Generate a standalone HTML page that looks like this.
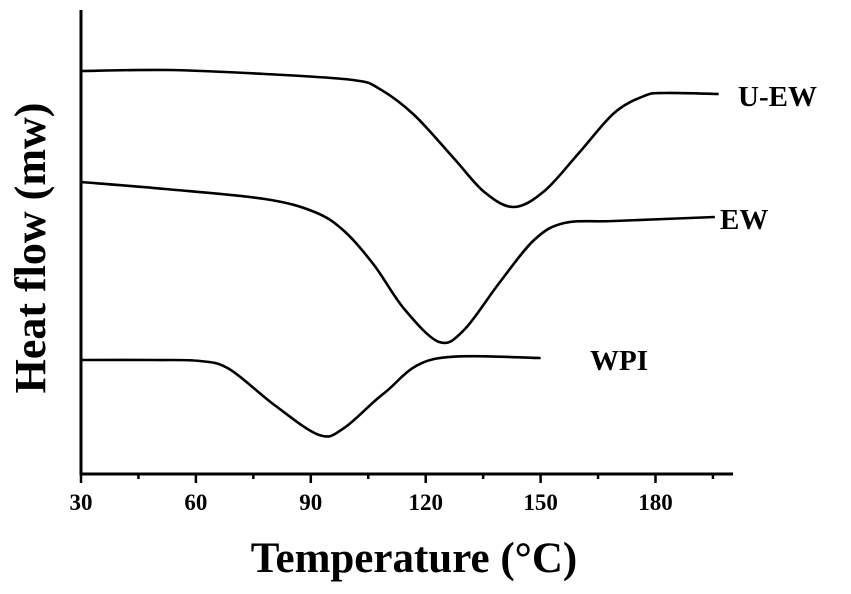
<!DOCTYPE html>
<html><head><meta charset="utf-8"><style>
html,body{margin:0;padding:0;background:#fff;}
svg{display:block;font-family:"Liberation Serif",serif;font-weight:bold;}
</style></head><body>
<svg id="chart" width="851" height="594" viewBox="0 0 851 594">
<g id="axes"></g><g id="series"></g><g id="labels"></g>
</svg>
<script>
const xTicks=[30,60,90,120,150,180];
const xMinorTicks=[45,75,105,135,165,195];
const uewT=[30,53,78,101,108,117,127.5,135.3,143,151,160,169.2,177,182.3,196.5];
const uewV=[404,405,401,395,386,360,316,283,268,284,322,362,379,382,381];
const ewT=[30,52,78,91,98.7,106.5,114.4,123.5,130,139.2,148.3,156.2,169.2,195.5];
const ewV=[293,286,276,263,244,210,166,133,145,192,235,252,254,258];
const wpiT=[30,49,61,68.7,80.5,92.2,98.7,109.2,122.2,150];
const wpiV=[115,115,114,106,70,40,47,82,116,117];
const seriesNames=["U-EW","EW","WPI"];

const NS="http://www.w3.org/2000/svg";
function X(t){return 81+(t-30)*3.83;}
function Y(v){return 475-v;}
function mk(tag,attrs,parent){const e=document.createElementNS(NS,tag);for(const k in attrs)e.setAttribute(k,attrs[k]);parent.appendChild(e);return e;}
const axes=document.getElementById('axes'),ser=document.getElementById('series'),lab=document.getElementById('labels');

let yAxis=mk('line',{x1:81,y1:10,x2:81,y2:475,stroke:'#000','stroke-width':3},axes);


let xAxis=mk('line',{x1:79.5,y1:474,x2:733,y2:474,stroke:'#000','stroke-width':3},axes);


xTicks.forEach(t=>{
  let tk=mk('line',{x1:X(t),y1:474,x2:X(t),y2:483,stroke:'#000','stroke-width':2.5},axes);
  
  
  let tl=mk('text',{x:X(t),y:510,'text-anchor':'middle','font-size':23},axes);
  tl.textContent=t;
  
  
});
xMinorTicks.forEach(t=>{
  let tk=mk('line',{x1:X(t),y1:474,x2:X(t),y2:479,stroke:'#000','stroke-width':2.5},axes);
  
  
});

function pathD(ts,vs){
  const p=ts.map((t,i)=>[X(t),Y(vs[i])]);
  let d='M'+p[0][0]+','+p[0][1];
  for(let i=0;i<p.length-1;i++){
    const p0=p[i-1]||p[i],p1=p[i],p2=p[i+1],p3=p[i+2]||p[i+1];
    const c1=[p1[0]+(p2[0]-p0[0])/6,p1[1]+(p2[1]-p0[1])/6];
    const c2=[p2[0]-(p3[0]-p1[0])/6,p2[1]-(p3[1]-p1[1])/6];
    d+=' C'+c1[0]+','+c1[1]+' '+c2[0]+','+c2[1]+' '+p2[0]+','+p2[1];
  }
  return d;
}
const all=[[uewT,uewV],[ewT,ewV],[wpiT,wpiV]];
const names=['uew-curve','ew-curve','wpi-curve'];
all.forEach((s,i)=>{
  let pth=mk('path',{d:pathD(s[0],s[1]),fill:'none',stroke:'#000','stroke-width':2.6},ser);
  
  
});
const labPos=[[738,106],[720,229],[590,370]];
seriesNames.forEach((n,i)=>{
  let t=mk('text',{x:labPos[i][0],y:labPos[i][1],'font-size':29},lab);
  t.textContent=n;
  
  
});
let xt=mk('text',{x:414,y:572,'text-anchor':'middle','font-size':43},lab);
xt.textContent='Temperature (°C)';


let yt=mk('text',{x:0,y:0,'text-anchor':'middle','font-size':44,transform:'translate(45,248) rotate(-90)'},lab);
yt.textContent='Heat flow (mw)';


</script>
</body></html>
